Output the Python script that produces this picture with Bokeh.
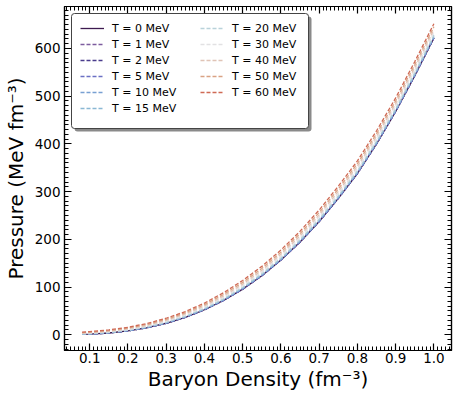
from bokeh.plotting import figure
from bokeh.models import (Range1d, LinearAxis, FixedTicker, Legend, LegendItem,
                          BoxAnnotation, CustomJSTickFormatter)
from bokeh.embed import file_html
from bokeh.resources import INLINE

density = [0.08, 0.10, 0.15, 0.20, 0.25, 0.30, 0.35, 0.40, 0.45, 0.50,
           0.55, 0.60, 0.65, 0.70, 0.75, 0.80, 0.85, 0.90, 0.95, 1.00]

T0 = [0.7, 1.2, 3.7, 8.1, 14.7, 24.1, 36.6, 52.4, 72.0, 95.7, 123.8, 156.6, 194.4, 237.4, 285.8, 338.0, 400.0, 467.9, 543.0, 622.0]
T1 = [0.7, 1.2, 3.7, 8.1, 14.7, 24.1, 36.6, 52.4, 72.0, 95.7, 123.8, 156.6, 194.4, 237.4, 285.8, 338.0, 400.0, 467.9, 543.0, 622.0]
T2 = [0.7, 1.2, 3.7, 8.1, 14.7, 24.1, 36.6, 52.4, 72.0, 95.7, 123.8, 156.6, 194.4, 237.4, 285.8, 338.1, 400.1, 468.0, 543.1, 622.1]
T5 = [0.8, 1.3, 3.8, 8.2, 14.8, 24.2, 36.8, 52.6, 72.2, 95.9, 124.1, 156.9, 194.7, 237.7, 286.2, 338.4, 400.4, 468.3, 543.4, 622.5]
T10 = [1.0, 1.5, 4.1, 8.6, 15.2, 24.7, 37.3, 53.2, 73.0, 96.8, 125.0, 157.9, 195.8, 238.8, 287.3, 339.6, 401.7, 469.6, 544.8, 623.8]
T15 = [1.4, 1.9, 4.6, 9.1, 15.9, 25.5, 38.2, 54.2, 74.1, 98.0, 126.3, 159.3, 197.3, 240.5, 289.1, 341.4, 403.6, 471.6, 546.8, 625.9]
T20 = [1.8, 2.4, 5.1, 9.8, 16.7, 26.4, 39.2, 55.5, 75.5, 99.7, 128.1, 161.2, 199.4, 242.7, 291.4, 343.8, 406.1, 474.2, 549.5, 628.6]
T30 = [2.7, 3.4, 6.3, 11.1, 18.3, 28.3, 41.4, 58.0, 78.4, 102.9, 131.6, 165.0, 203.4, 247.0, 296.0, 348.6, 411.0, 479.3, 554.8, 634.0]
T40 = [3.6, 4.4, 7.5, 12.5, 19.9, 30.2, 43.6, 60.5, 81.3, 106.1, 135.1, 168.8, 207.5, 251.3, 300.6, 353.4, 416.0, 484.4, 560.1, 639.4]
T50 = [4.6, 5.5, 8.8, 14.0, 21.7, 32.3, 46.0, 63.3, 84.5, 109.7, 139.0, 173.0, 212.0, 256.1, 305.7, 358.7, 421.5, 490.1, 566.0, 645.4]
T60 = [5.7, 6.7, 10.2, 15.6, 23.7, 34.6, 48.6, 66.4, 88.0, 113.7, 143.3, 177.6, 216.9, 261.4, 311.3, 364.5, 427.5, 496.4, 572.5, 652.0]

labels = ["T = 0 MeV", "T = 1 MeV", "T = 2 MeV", "T = 5 MeV", "T = 10 MeV", "T = 15 MeV",
          "T = 20 MeV", "T = 30 MeV", "T = 40 MeV", "T = 50 MeV", "T = 60 MeV"]
series = [T0, T1, T2, T5, T10, T15, T20, T30, T40, T50, T60]
colors = ["#3d1a4f", "#7d5c9e", "#4a3c8c", "#6b70c4", "#78a0d2", "#8ab8d4",
          "#b9d2da", "#e2e1e3", "#e0c4b6", "#d9a284", "#cf6a55"]

x_ticks = [0.1, 0.2, 0.3, 0.4, 0.5, 0.6, 0.7, 0.8, 0.9, 1.0]
x_tick_labels = ["0.1", "0.2", "0.3", "0.4", "0.5", "0.6", "0.7", "0.8", "0.9", "1.0"]
y_ticks = [0, 100, 200, 300, 400, 500, 600]

FONT = "DejaVu Sans"

p = figure(width=454, height=393, output_backend="svg", toolbar_location=None,
           x_range=Range1d(0.034, 1.046), y_range=Range1d(-33, 688))
p.min_border_left = 63
p.min_border_right = 3
p.min_border_top = 6
p.min_border_bottom = 43
p.background_fill_color = "white"
p.border_fill_color = "white"
p.outline_line_color = "black"
p.outline_line_width = 1.2
p.grid.visible = False

xminor = [round(0.03 + 0.01 * i, 2) for i in range(0, 102)]
yminor = [-30 + 10 * i for i in range(0, 73)]

# legend frame (screen units relative to plot frame, y measured upward)
shadow = BoxAnnotation(left=10, right=247, top=334, bottom=219,
                       left_units="screen", right_units="screen",
                       top_units="screen", bottom_units="screen",
                       fill_color="#8a8a8a", fill_alpha=1.0, line_color=None,
                       border_radius=3)
frame_box = BoxAnnotation(left=7, right=244, top=337, bottom=222,
                          left_units="screen", right_units="screen",
                          top_units="screen", bottom_units="screen",
                          fill_color="white", fill_alpha=1.0,
                          line_color="#444444", line_width=1, line_alpha=1.0,
                          border_radius=3)
p.add_layout(shadow)
p.add_layout(frame_box)

items = []
for lab, ys, col in zip(labels, series, colors):
    if lab == "T = 0 MeV":
        r = p.line(density, ys, line_color=col, line_width=1.3)
    else:
        r = p.line(density, ys, line_color=col, line_width=1.3, line_dash="4 2")
    items.append(LegendItem(label=lab, renderers=[r]))


def style_axis(ax):
    ax.major_tick_in = 7
    ax.major_tick_out = 0
    ax.minor_tick_in = 4
    ax.minor_tick_out = 0
    ax.axis_line_color = "black"
    ax.axis_line_width = 1.2
    ax.major_tick_line_width = 1.2
    ax.minor_tick_line_width = 1.0
    ax.major_label_text_font = FONT
    ax.major_label_text_color = "black"
    ax.axis_label_text_font = FONT
    ax.axis_label_text_font_style = "normal"
    ax.axis_label_text_color = "black"


p.xaxis.ticker = FixedTicker(ticks=x_ticks, minor_ticks=xminor)
p.yaxis.ticker = FixedTicker(ticks=y_ticks, minor_ticks=yminor)
p.xaxis.major_label_overrides = {t: s for t, s in zip(x_ticks, x_tick_labels)}
for ax in [p.xaxis[0], p.yaxis[0]]:
    style_axis(ax)
    ax.major_label_text_font_size = "13.5px"
    ax.axis_label_text_font_size = "20px"
p.xaxis.major_label_standoff = 2
p.xaxis.axis_label_standoff = 1
p.yaxis.major_label_standoff = 4
p.yaxis.axis_label_standoff = 4
p.xaxis.axis_label = "Baryon Density (fm⁻³)"
p.yaxis.axis_label = "Pressure (MeV fm⁻³)"

blank = CustomJSTickFormatter(code="return ''")
top_ax = LinearAxis(ticker=FixedTicker(ticks=x_ticks, minor_ticks=xminor), formatter=blank)
right_ax = LinearAxis(ticker=FixedTicker(ticks=y_ticks, minor_ticks=yminor), formatter=blank)
for ax in [top_ax, right_ax]:
    style_axis(ax)
    ax.major_label_standoff = 0
p.add_layout(top_ax, "above")
p.add_layout(right_ax, "right")


def make_legend(its, loc):
    lg = Legend(items=its, location=loc)
    lg.label_text_font = FONT
    lg.label_text_font_size = "11px"
    lg.label_text_color = "black"
    lg.glyph_width = 24
    lg.glyph_height = 16
    lg.label_height = 16
    lg.label_standoff = 8
    lg.spacing = 0
    lg.padding = 0
    lg.margin = 0
    lg.border_line_color = None
    lg.background_fill_alpha = 0.0
    return lg


# bottom-left corner of each legend column, relative to plot frame
p.add_layout(make_legend(items[:6], (16, 234)))
p.add_layout(make_legend(items[6:], (136, 250)))

open("out.html", "w").write(file_html(p, INLINE))
